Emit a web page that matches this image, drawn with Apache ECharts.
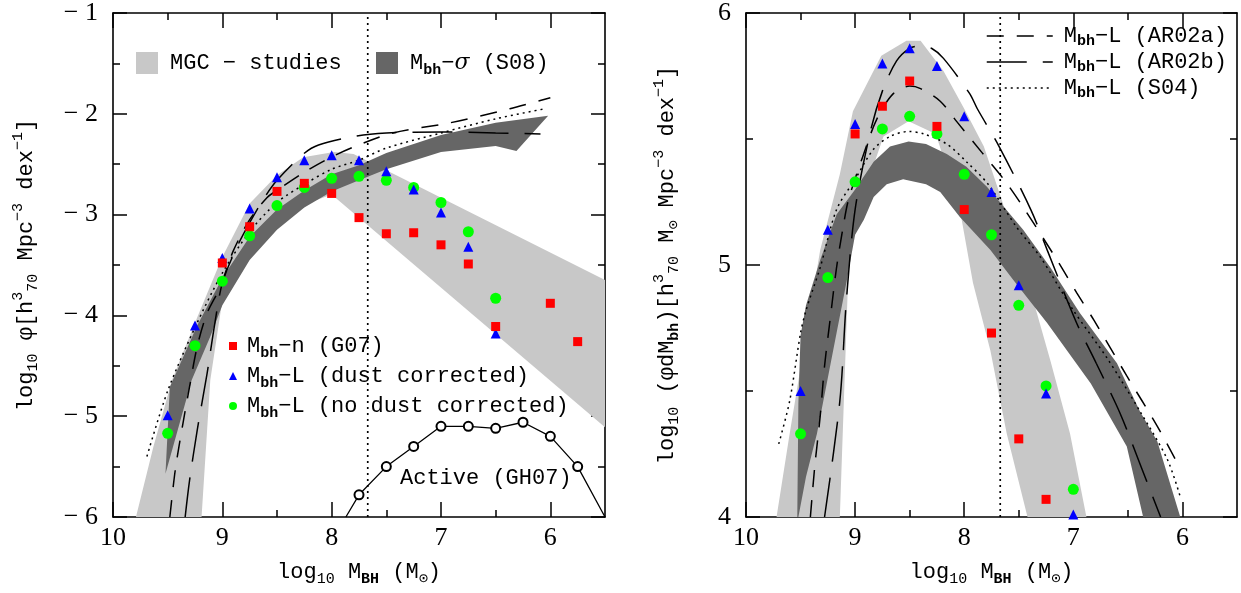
<!DOCTYPE html>
<html><head><meta charset="utf-8">
<script src="https://cdn.jsdelivr.net/npm/echarts@6/dist/echarts.min.js"></script>
<style>html,body{margin:0;padding:0;background:#fff}#c{width:1241px;height:593px}</style>
</head><body><div id="c"></div>
<script>
// ---------------- data ----------------
const xMajor = [10, 9, 8, 7, 6];
const xMinor = [9.5, 8.5, 7.5, 6.5];
const yMajorL = [-6, -5, -4, -3, -2, -1];
const yMinorL = [-5.5, -4.5, -3.5, -2.5, -1.5];
const yMajorR = [4, 5, 6];
const yMinorR = [4.5, 5.5];

const massBins = [9.5, 9.25, 9.0, 8.75, 8.5, 8.25, 8.0, 7.75, 7.5, 7.25, 7.0, 6.75, 6.5, 6.25, 6.0, 5.75];
// left panel: log10 phi
const phiG07    = [null, null, -3.48, -3.12, -2.77, -2.69, -2.79, -3.03, -3.19, -3.18, -3.30, -3.49, -4.11, null, -3.88, -4.26];
const phiDust   = [-4.99, -4.10, -3.43, -2.94, -2.63, -2.46, -2.41, -2.46, -2.57, -2.75, -2.98, -3.32, -4.18, null, null, null];
const phiNoDust = [-5.17, -4.30, -3.66, -3.21, -2.91, -2.73, -2.64, -2.62, -2.66, -2.73, -2.88, -3.17, -3.83, null, null, null];
// right panel: log10 (phi dM)
const rhoG07    = [null, null, 5.52, 5.63, 5.73, 5.55, 5.22, 4.73, 4.31, 4.07, null, null, null, null, null, null];
const rhoDust   = [4.50, 5.14, 5.56, 5.80, 5.86, 5.79, 5.59, 5.29, 4.92, 4.49, 4.01, null, null, null, null, null];
const rhoNoDust = [4.33, 4.95, 5.33, 5.54, 5.59, 5.52, 5.36, 5.12, 4.84, 4.52, 4.11, null, null, null, null, null];

// active BH mass function (GH07)
const activeBins = [7.87, 7.75, 7.5, 7.25, 7.0, 6.75, 6.5, 6.25, 6.0, 5.75, 5.5];
const activePhi  = [-6, -5.78, -5.50, -5.30, -5.10, -5.10, -5.12, -5.06, -5.20, -5.50, -6];

const vlineX = 7.67;

// bands (outline polygons)
const leftMGC = [[9.79,-6],[9.63,-5.3],[9.46,-4.64],[9.23,-4.02],[9.0,-3.42],[8.75,-2.89],[8.5,-2.61],[8.26,-2.43],[7.98,-2.38],[7.80,-2.40],[7.5,-2.56],[5.5,-3.65],
  [5.5,-5.11],[8.0,-2.80],[8.25,-2.90],[8.5,-3.12],[8.75,-3.42],[9.0,-3.85],[9.11,-4.64],[9.19,-6]];
const leftS08 = [[9.52,-5.57],[9.48,-4.71],[9.23,-4.10],[9.0,-3.63],[8.75,-3.22],[8.5,-2.95],[8.25,-2.76],[8.0,-2.60],[7.75,-2.51],[7.5,-2.39],[7.0,-2.21],[6.5,-2.09],[6.02,-2.02],
  [6.31,-2.37],[6.5,-2.32],[7.0,-2.38],[7.5,-2.55],[7.75,-2.66],[8.0,-2.77],[8.25,-2.93],[8.5,-3.15],[8.75,-3.45],[9.0,-3.90],[9.11,-4.21],[9.28,-4.64]];
const rightMGC = [[9.72,4.0],[9.6,4.33],[9.44,4.75],[9.32,5.06],[9.14,5.36],[9.02,5.61],[8.76,5.83],[8.53,5.89],[8.40,5.89],[8.19,5.77],[8.0,5.62],[7.82,5.47],[7.65,5.25],[7.42,4.94],[7.21,4.62],[7.03,4.33],[6.88,4.0],
  [7.42,4.0],[7.61,4.33],[7.76,4.66],[7.92,4.93],[8.04,5.22],[8.26,5.52],[8.51,5.57],[8.74,5.51],[9.05,5.12],[9.14,4.0]];
const rightS08 = [[9.53,4.0],[9.52,4.45],[9.50,4.72],[9.45,4.84],[9.32,5.02],[9.17,5.2],[9.0,5.30],[8.83,5.41],[8.68,5.47],[8.51,5.49],[8.35,5.48],[8.16,5.44],[7.98,5.39],[7.79,5.31],[7.46,5.14],[7.21,4.99],[6.94,4.81],[6.60,4.61],[6.39,4.42],[6.23,4.30],[6.02,4.0],
  [6.36,4.0],[6.51,4.28],[6.84,4.53],[7.24,4.77],[7.55,4.94],[7.76,5.06],[8.04,5.19],[8.22,5.29],[8.35,5.32],[8.56,5.34],[8.71,5.32],[8.83,5.27],[8.92,5.18],[9.0,5.12],[9.08,4.93],[9.17,4.73],[9.26,4.53],[9.35,4.33],[9.45,4.16],[9.52,4.0]];

// model curves
const leftAR02a = [[9.48,-6],[9.43,-5.53],[9.36,-5.07],[9.30,-4.71],[9.23,-4.31],[9.14,-3.98],[9.02,-3.72],[8.9,-3.36],[8.75,-3.05],[8.59,-2.83],[8.5,-2.76],[8.25,-2.58],[8.04,-2.45],[7.80,-2.33],[7.44,-2.19],[6.92,-2.09],[6.37,-1.95],[6.0,-1.84]];
const leftAR02b = [[9.34,-6],[9.30,-5.64],[9.23,-5.14],[9.14,-4.58],[9.07,-4.09],[9.0,-3.68],[8.87,-3.33],[8.75,-3.08],[8.62,-2.84],[8.5,-2.66],[8.26,-2.40],[8.12,-2.31],[7.77,-2.22],[7.5,-2.19],[7.0,-2.18],[6.5,-2.19],[6.09,-2.20]];
const leftS04   = [[9.69,-5.40],[9.5,-4.75],[9.25,-4.12],[9.0,-3.58],[8.75,-3.17],[8.5,-2.88],[8.25,-2.70],[8.0,-2.55],[7.75,-2.46],[7.5,-2.34],[7.0,-2.19],[6.5,-2.05],[6.05,-1.95]];
const rightAR02a = [[9.41,4.0],[9.37,4.20],[9.32,4.40],[9.28,4.60],[9.23,4.78],[9.17,4.99],[9.11,5.15],[9.06,5.26],[8.93,5.43],[8.8,5.58],[8.65,5.68],[8.5,5.71],[8.4,5.70],[8.22,5.65],[8.07,5.57],[7.92,5.49],[7.75,5.40],[7.62,5.33],[7.46,5.23],[7.15,5.02],[6.97,4.89],[6.81,4.78],[6.51,4.56],[6.23,4.36],[6.03,4.20]];
const rightAR02b = [[9.28,4.0],[9.14,4.46],[9.08,4.86],[9.0,5.22],[8.86,5.53],[8.75,5.69],[8.62,5.81],[8.5,5.86],[8.40,5.87],[8.30,5.86],[8.19,5.82],[7.95,5.68],[7.88,5.62],[7.68,5.47],[7.39,5.22],[7.24,5.06],[6.97,4.77],[6.79,4.61],[6.57,4.41],[6.38,4.20],[6.20,4.0]];
const rightS04   = [[9.70,4.29],[9.60,4.46],[9.50,4.73],[9.45,4.82],[9.32,4.99],[9.17,5.22],[9.0,5.34],[8.83,5.46],[8.68,5.51],[8.51,5.53],[8.37,5.52],[8.16,5.48],[7.98,5.41],[7.78,5.32],[7.52,5.15],[7.30,5.03],[7.0,4.82],[6.69,4.63],[6.39,4.42],[6.14,4.23],[6.02,4.08]];

const legendLabels = {
  MGC: 'MGC − studies',
  S08: 'M{sub|bh}−{it|σ} (S08)',
  G07: 'M{sub|bh}−n (G07)',
  dust: 'M{sub|bh}−L (dust corrected)',
  nodust: 'M{sub|bh}−L (no dust corrected)',
  AR02a: 'M{sub|bh}−L (AR02a)',
  AR02b: 'M{sub|bh}−L (AR02b)',
  S04: 'M{sub|bh}−L (S04)'
};

// ---------------- styling ----------------
const F = "'Liberation Mono', 'DejaVu Sans Mono', monospace";
const FT = "'Liberation Serif', 'DejaVu Serif', serif";
const FS = 22;
const RICH = {
  sub:  {fontFamily: F, fontSize: 15, fontWeight: 'bold', lineHeight: 15, verticalAlign: 'bottom', color: '#000'},
  subn: {fontFamily: F, fontSize: 15, lineHeight: 15, verticalAlign: 'bottom', color: '#000'},
  sup:  {fontFamily: F, fontSize: 15, lineHeight: 15, verticalAlign: 'top', color: '#000'},
  it:   {fontFamily: 'DejaVu Serif', fontStyle: 'italic', fontSize: FS, color: '#000'}
};
const LIGHT = '#c8c8c8', DARK = '#666666';

function zip(xs, ys) { const o = []; xs.forEach((x, i) => { if (ys[i] !== null) o.push([x, ys[i]]); }); return o; }

function xAxes(gi, title) {
  const base = {type: 'value', gridIndex: gi, min: 5.5, max: 10, inverse: true, splitLine: {show: false},
    axisLine: {show: false}, axisLabel: {show: false}, axisTick: {show: false}};
  const tick = (vals, len) => ({show: true, inside: true, length: len, customValues: vals, lineStyle: {color: '#000', width: 1.5}});
  return [
    Object.assign({}, base, {position: 'bottom', axisLine: {show: true, lineStyle: {color: '#000', width: 1.6}},
      axisTick: tick(xMajor, 15),
      axisLabel: {show: true, customValues: xMajor, margin: 8, fontFamily: FT, fontSize: 26, color: '#000'},
      name: title, nameLocation: 'middle', nameGap: 40,
      nameTextStyle: {fontFamily: F, fontSize: FS, color: '#000', lineHeight: 30, rich: RICH}}),
    Object.assign({}, base, {position: 'bottom', axisTick: tick(xMinor, 7)}),
    Object.assign({}, base, {position: 'top', axisLine: {show: true, lineStyle: {color: '#000', width: 1.6}}, axisTick: tick(xMajor, 15)}),
    Object.assign({}, base, {position: 'top', axisTick: tick(xMinor, 7)})
  ];
}
function yAxes(gi, min, max, major, minor, title, gap) {
  const base = {type: 'value', gridIndex: gi, min, max, splitLine: {show: false},
    axisLine: {show: false}, axisLabel: {show: false}, axisTick: {show: false}};
  const tick = (vals, len) => ({show: true, inside: true, length: len, customValues: vals, lineStyle: {color: '#000', width: 1.5}});
  return [
    Object.assign({}, base, {position: 'left', axisLine: {show: true, lineStyle: {color: '#000', width: 1.6}},
      axisTick: tick(major, 14),
      axisLabel: {show: true, customValues: major, margin: 15, fontFamily: FT, fontSize: 26, color: '#000',
        formatter: v => (v < 0 ? '− ' : '') + Math.abs(v)},
      name: title, nameLocation: 'middle', nameRotate: 90, nameGap: gap,
      nameTextStyle: {fontFamily: F, fontSize: FS, color: '#000', lineHeight: 30, rich: RICH}}),
    Object.assign({}, base, {position: 'left', axisTick: tick(minor, 7)}),
    Object.assign({}, base, {position: 'right', axisLine: {show: true, lineStyle: {color: '#000', width: 1.6}}, axisTick: tick(major, 14)}),
    Object.assign({}, base, {position: 'right', axisTick: tick(minor, 7)})
  ];
}

function band(name, pts, color, xi, yi, z) {
  return {type: 'custom', name, xAxisIndex: xi, yAxisIndex: yi, z, silent: true,
    itemStyle: {color}, data: pts,
    renderItem(params, api) {
      if (params.dataIndex !== 0) return null;
      return {type: 'polygon', shape: {points: pts.map(p => api.coord(p))}, style: {fill: color}};
    }};
}
function curve(name, pts, dash, xi, yi) {
  return {type: 'line', name, xAxisIndex: xi, yAxisIndex: yi, data: pts, symbol: 'none', smooth: 0.3, z: 5,
    silent: true, itemStyle: {color: '#000'}, lineStyle: {color: '#000', width: 1.5, type: dash}};
}
function marks(name, vals, symbol, size, color, xi, yi, z) {
  return {type: 'scatter', name, xAxisIndex: xi, yAxisIndex: yi, data: zip(massBins, vals), symbol, symbolSize: size,
    itemStyle: {color, opacity: 1}, z, silent: true};
}
const DASH_A = [17, 13], DASH_B = [40, 16], DOT = [2, 4];

const series = [];
[[0, leftMGC, leftS08, leftAR02a, leftAR02b, leftS04, phiG07, phiDust, phiNoDust, [-6, -1]],
 [4, rightMGC, rightS08, rightAR02a, rightAR02b, rightS04, rhoG07, rhoDust, rhoNoDust, [4, 6]]].forEach(p => {
  const [ai, mgc, s08, a, b, s04, g, d, n, yr] = p;
  series.push(band('MGC', mgc, LIGHT, ai, ai, 1));
  series.push(band('S08', s08, DARK, ai, ai, 2));
  series.push({type: 'line', name: 'vline', xAxisIndex: ai, yAxisIndex: ai, data: [[vlineX, yr[0]], [vlineX, yr[1]]],
    symbol: 'none', z: 4, silent: true, lineStyle: {color: '#000', width: 1.7, type: [2, 4]}});
  series.push(curve('AR02a', a, DASH_A, ai, ai));
  series.push(curve('AR02b', b, DASH_B, ai, ai));
  series.push(curve('S04', s04, DOT, ai, ai));
  series.push(marks('nodust', n, 'circle', 11, '#00ff00', ai, ai, 10));
  series.push(marks('dust', d, 'triangle', 10, '#0000ff', ai, ai, 11));
  series.push(marks('G07', g, 'rect', 9, '#ff0000', ai, ai, 12));
});
series.push({type: 'line', name: 'GH07', xAxisIndex: 0, yAxisIndex: 0, z: 6, silent: true,
  data: activeBins.map((x, i) => (i === 0 || i === activeBins.length - 1)
    ? {value: [x, activePhi[i]], symbol: 'none'} : [x, activePhi[i]]),
  symbol: 'emptyCircle', symbolSize: 9, itemStyle: {color: '#000', borderWidth: 1.3},
  lineStyle: {color: '#000', width: 1.3}});

const legText = {fontFamily: F, fontSize: FS, color: '#000', lineHeight: 30, rich: RICH};
const legendBase = {selectedMode: false, padding: 0, formatter: nm => legendLabels[nm]};
const option = {
  animation: false,
  backgroundColor: '#fff',
  grid: [
    {left: 113, top: 12, width: 492, height: 505},
    {left: 746, top: 12, width: 491, height: 505}
  ],
  xAxis: [].concat(xAxes(0, 'log{subn|10} M{sub|BH} (M{subn|⊙})'), xAxes(1, 'log{subn|10} M{sub|BH} (M{subn|⊙})')),
  yAxis: [].concat(
    yAxes(0, -6, -1, yMajorL, yMinorL, 'log{subn|10} φ[h{sup|3}{subn|70} Mpc{sup|−3} dex{sup|−1}]', 72),
    yAxes(1, 4, 6, yMajorR, yMinorR, 'log{subn|10} (φdM{sub|bh})[h{sup|3}{subn|70} M{subn|⊙} Mpc{sup|−3} dex{sup|−1}]', 64)),
  legend: [
    Object.assign({}, legendBase, {left: 136, top: 48, icon: 'rect', itemWidth: 22, itemHeight: 22,
      textStyle: Object.assign({}, legText, {padding: [0, 0, 0, 7]}), data: [{name: 'MGC', itemStyle: {color: LIGHT}}]}),
    Object.assign({}, legendBase, {left: 376, top: 48, icon: 'rect', itemWidth: 22, itemHeight: 22,
      textStyle: Object.assign({}, legText, {padding: [0, 0, 0, 7]}), data: [{name: 'S08', itemStyle: {color: DARK}}]}),
    Object.assign({}, legendBase, {left: 229, top: 331, orient: 'vertical', itemWidth: 8, itemHeight: 8, itemGap: 0,
      textStyle: Object.assign({}, legText, {padding: [0, 0, 0, 5]}), data: ['G07', 'dust', 'nodust']}),
    Object.assign({}, legendBase, {left: 986, top: 23, orient: 'vertical', itemWidth: 66, itemHeight: 14, itemGap: 0,
      itemStyle: {color: 'rgba(0,0,0,0)', borderColor: 'rgba(0,0,0,0)', borderWidth: 0},
      lineStyle: {color: '#000', width: 1.5},
      textStyle: Object.assign({}, legText, {lineHeight: 26, padding: [0, 0, 0, 6]}), data: ['AR02a', 'AR02b', 'S04']})
  ],
  graphic: [
    {type: 'text', left: 400, top: 467, silent: true,
      style: {text: 'Active (GH07)', fontFamily: F, fontSize: FS, fill: '#000'}}
  ],
  series
};
const chart = echarts.init(document.getElementById('c'), null, {renderer: 'canvas'});
chart.setOption(option);
</script></body></html>
